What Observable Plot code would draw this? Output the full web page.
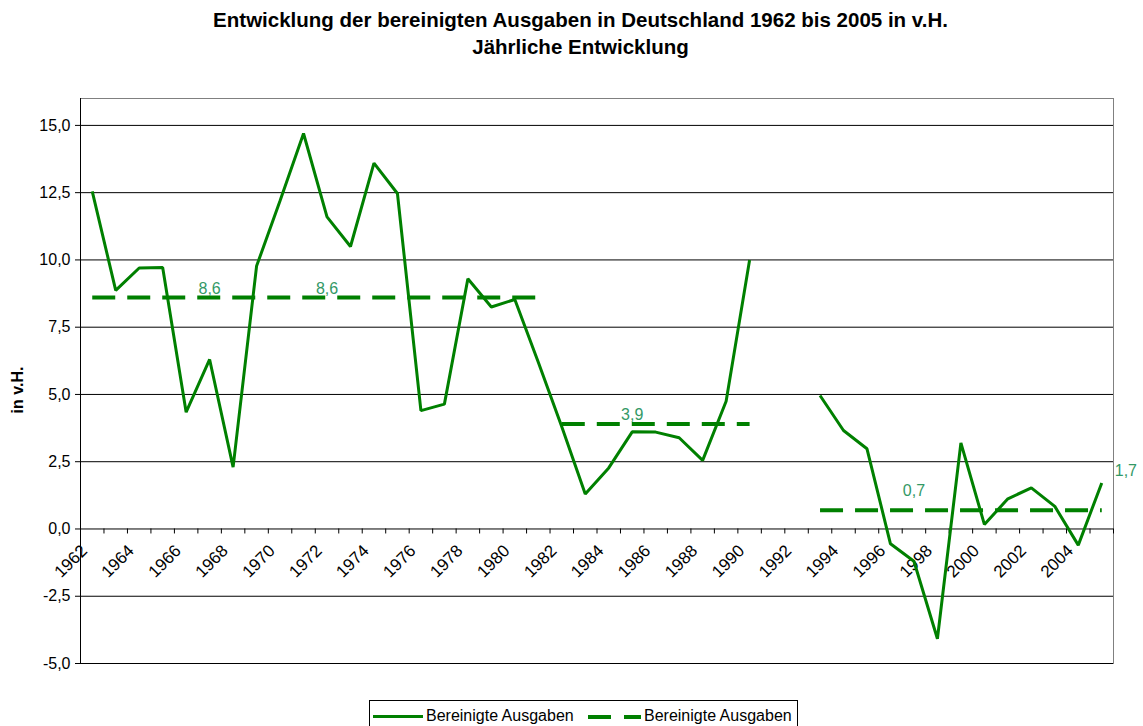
<!DOCTYPE html>
<html>
<head>
<meta charset="utf-8">
<script src="https://cdn.jsdelivr.net/npm/d3@7"></script>
<script src="https://cdn.jsdelivr.net/npm/@observablehq/plot@0.6"></script>
<style>
  body { margin: 0; background: #fff; font-family: "Liberation Sans", Arial, sans-serif; }
  #wrap { position: relative; width: 1143px; height: 726px; overflow: hidden; background: #fff; }
  #title { position: absolute; top: 6px; left: 9px; width: 1143px; text-align: center; font-weight: bold; font-size: 20.5px; line-height: 27px; color: #000; }
  #chart { position: absolute; top: 60px; left: 0; }
  #ylabel { position: absolute; left: 18px; top: 390px; transform: translate(-50%, -50%) rotate(-90deg); font-weight: bold; font-size: 16px; white-space: nowrap; }
  #legend { position: absolute; left: 369px; top: 700px; width: 429px; height: 32px; border: 1px solid #000; box-sizing: border-box; font-size: 16px; background: #fff; }
  .lg { position: absolute; }
</style>
</head>
<body>
<div id="wrap">
  <div id="title">Entwicklung der bereinigten Ausgaben in Deutschland 1962 bis 2005 in v.H.<br>Jährliche Entwicklung</div>
  <div id="chart"></div>
  <div id="ylabel">in v.H.</div>
  <div id="legend"></div>
</div>
<script>
// ---- data ----
const years = [1962,1963,1964,1965,1966,1967,1968,1969,1970,1971,1972,1973,1974,1975,1976,1977,1978,1979,1980,1981,
               1982,1983,1984,1985,1986,1987,1988,1989,1990,1991,1992,1993,1994,1995,1996,1997,1998,1999,2000,2001,
               2002,2003,2004,2005];
const ausgaben = [12.55,8.87,9.7,9.72,4.34,6.3,2.3,9.77,12.2,14.7,11.6,10.5,13.6,12.47,4.4,4.64,9.3,8.25,8.53,6.2,
                  3.8,1.3,2.27,3.61,3.6,3.39,2.55,4.75,10.0,null,null,4.96,3.66,2.98,-0.55,-1.2,-4.08,3.2,0.17,1.12,
                  1.53,0.84,-0.6,1.71];
const periodNames = ["1962-1981","1982-1990","1993-2005"];
const periodStart = [1962, 1982, 1993];
const periodEnd = [1981, 1990, 2005];
const periodMean = [8.6, 3.9, 0.7];
const meanLabelYears = [1967, 1972, 1985];
const meanLabelValues = [8.6, 8.6, 3.9];
const lowLabelYears = [1997];
const lowLabelValues = [0.7];
const endLabelYears = [2005];
const endLabelValues = [1.7];
const yTicks = [-5, -2.5, 0, 2.5, 5, 7.5, 10, 12.5, 15];
const xLabelYears = [1962,1964,1966,1968,1970,1972,1974,1976,1978,1980,1982,1984,1986,1988,1990,1992,1994,1996,1998,2000,2002,2004];
const seriesName = "Bereinigte Ausgaben";

// ---- derived tables ----
const table = years.map((y, i) => ({year: y, value: ausgaben[i] == null ? NaN : ausgaben[i]}));
const avgTable = periodNames.flatMap((p, i) => [
  {period: p, year: periodStart[i], value: periodMean[i]},
  {period: p, year: periodEnd[i], value: periodMean[i]}
]);
const xBounds = [years[0] - 0.5, ...years.map(y => y + 0.5)];
const fmt = d => d.toFixed(1).replace(".", ",");
const GREEN = "#008000";
const LABEL = "#339966";

const chart = Plot.plot({
  width: 1143,
  height: 640,
  marginTop: 38,
  marginBottom: 37,
  marginLeft: 80,
  marginRight: 30,
  x: {domain: [xBounds[0], xBounds[xBounds.length - 1]], axis: null},
  y: {domain: [-5, 16]},
  style: {fontFamily: "'Liberation Sans', Arial, sans-serif", fontSize: "16px", background: "#fff", color: "#000"},
  marks: [
    Plot.frame({stroke: "#808080"}),
    Plot.ruleY(yTicks, {stroke: "#000", strokeWidth: 1}),
    Plot.ruleX([xBounds[0]], {stroke: "#000", strokeWidth: 1}),
    Plot.axisY(yTicks, {tickSize: 5, tickPadding: 5, tickFormat: fmt, fontSize: 16, label: null, stroke: "#000"}),
    Plot.ruleX(xBounds, {x: d => d, y1: 0, y2: 0, insetBottom: -5, stroke: "#000"}),
    Plot.text(xLabelYears, {x: d => d, y: 0, text: d => String(d), rotate: -45, textAnchor: "end", dy: 19, dx: -8, fontSize: 17, fill: "#000"}),
    Plot.line(avgTable, {x: "year", y: "value", z: "period", stroke: GREEN, strokeWidth: 4, strokeDasharray: "23,12", strokeLinecap: "butt"}),
    Plot.line(table, {x: "year", y: "value", stroke: GREEN, strokeWidth: 3, strokeLinejoin: "miter", strokeLinecap: "butt"}),
    Plot.text(meanLabelYears, {x: d => d, y: (d, i) => meanLabelValues[i], text: (d, i) => fmt(meanLabelValues[i]), dy: -9, fill: LABEL, fontSize: 16}),
    Plot.text(lowLabelYears, {x: d => d, y: (d, i) => lowLabelValues[i], text: (d, i) => fmt(lowLabelValues[i]), dy: -19, fill: LABEL, fontSize: 16}),
    Plot.text(endLabelYears, {x: d => d, y: (d, i) => endLabelValues[i], text: (d, i) => fmt(endLabelValues[i]), dx: 13, dy: -12, textAnchor: "start", fill: LABEL, fontSize: 16})
  ]
});
document.getElementById("chart").appendChild(chart);

// ---- legend ----
const lg = document.getElementById("legend");
lg.innerHTML = `
  <div class="lg" style="left:3px;top:14px;width:50px;height:0;border-top:3px solid ${GREEN};"></div>
  <div class="lg" style="left:56px;top:6px;">${seriesName}</div>
  <div class="lg" style="left:218px;top:14px;width:23px;height:0;border-top:4px solid ${GREEN};"></div>
  <div class="lg" style="left:254px;top:14px;width:17px;height:0;border-top:4px solid ${GREEN};"></div>
  <div class="lg" style="left:274px;top:6px;">${seriesName}</div>
`;
</script>
</body>
</html>
